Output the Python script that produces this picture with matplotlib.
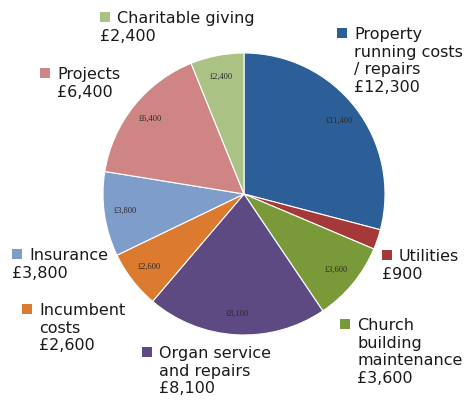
#!/usr/bin/env python3
"""Church expenditure pie chart, Excel-style callout labels."""

import matplotlib
matplotlib.use("Agg")
import matplotlib.pyplot as plt
from matplotlib.patches import Rectangle


# slices, clockwise from 12 o'clock
names = [
    "Property\nrunning costs\n/ repairs",
    "Utilities",
    "Church\nbuilding\nmaintenance",
    "Organ service\nand repairs",
    "Incumbent\ncosts",
    "Insurance",
    "Projects",
    "Charitable giving",
]
slice_values = [11400, 900, 3600, 8100, 2600, 3800, 6400, 2400]
inner_labels = ["£11,400", "", "£3,600", "£8,100", "£2,600", "£3,800", "£6,400", "£2,400"]
outer_labels = ["£12,300", "£900", "£3,600", "£8,100", "£2,600", "£3,800", "£6,400", "£2,400"]
colors = ["#2C5F98", "#A5393A", "#7A9A3A", "#5E4A83", "#DC7A30", "#7F9DCB", "#CF8584", "#ABC285"]

# callout layout in pixels: square x, first baseline y, first-line x, wrap x
callouts = [
    (337, 39, 354, 354),
    (382, 261, 399, 382),
    (340, 330, 357, 357),
    (142, 358, 159, 159),
    (22, 315, 39, 39),
    (12, 260, 29, 12),
    (40, 79, 57, 57),
    (100, 23, 117, 100),
]

W, H = 473, 400
LINE = 17.7
TEXT_COLOR = "#1a1a1a"


def py(y):
    # pixel row (top-down) to data y
    return H - y


def main():
    fig = plt.figure(figsize=(W / 100, H / 100), dpi=100)
    ax = fig.add_axes([0, 0, 1, 1])

    _, texts = ax.pie(
        slice_values,
        colors=colors,
        labels=inner_labels,
        labeldistance=0.85,
        startangle=90,
        counterclock=False,
        center=(244, py(194)),
        radius=141,
        frame=True,
        wedgeprops={"edgecolor": "white", "linewidth": 0.8},
        textprops={"fontsize": 6, "family": "Liberation Serif", "color": "#2a2a2a"},
    )
    for t in texts:
        t.set_horizontalalignment("center")
        t.set_verticalalignment("center")

    ax.set_xlim(0, W)
    ax.set_ylim(0, H)
    ax.set_aspect("equal")
    ax.axis("off")

    for name, value, color, (sq_x, base, tx, wrap_x) in zip(names, outer_labels, colors, callouts):
        ax.add_patch(Rectangle((sq_x, py(base - 1)), 10, 10, facecolor=color, edgecolor="none"))
        lines = name.split("\n") + [value]
        for i, line in enumerate(lines):
            x = tx if i == 0 else wrap_x
            ax.text(x, py(base + i * LINE), line, fontsize=11.5, family="DejaVu Sans",
                    color=TEXT_COLOR, ha="left", va="baseline")

    fig.savefig("out.png", dpi=100)


if __name__ == "__main__":
    main()
